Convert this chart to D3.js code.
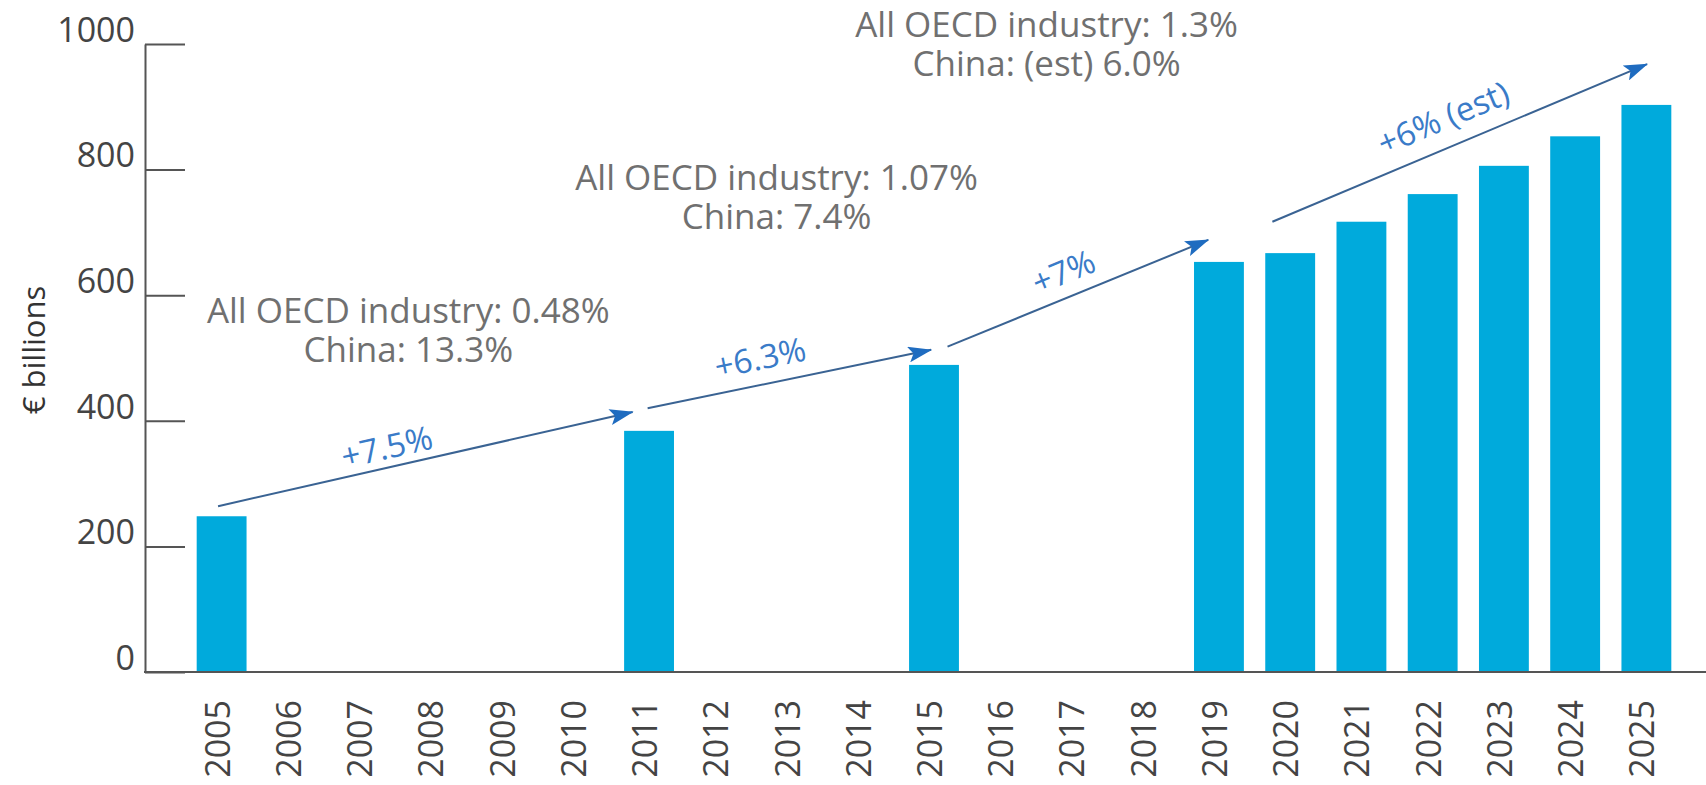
<!DOCTYPE html>
<html lang="en">
<head>
    <meta charset="UTF-8">
    <title>Annual value, € billions</title>
    <script src="https://d3js.org/d3.v7.min.js"></script>
    <style>
        body {
            margin: 0;
            background: #fff;
            font-family: 'Open Sans', sans-serif;
        }
        .tick text {
            font-family: 'Open Sans', sans-serif;
            font-size: 34px;
            fill: #444;
        }
        .note {
            font-size: 35px;
            fill: #707070;
            text-anchor: middle;
        }
        .growth {
            font-size: 33px;
            fill: #3a7bc8;
            text-anchor: middle;
        }
    </style>
</head>
<body>
    <div id="chart"></div>

    <script>
        // data
        const years = d3.range(2005, 2026);
        const barYears = [2005, 2011, 2015, 2019, 2020, 2021, 2022, 2023, 2024, 2025];
        const barValues = [248, 384, 489, 653, 667, 717, 761, 806, 853, 903];
        const yTicks = [0, 200, 400, 600, 800, 1000];

        // growth arrows: from (year, value) to (year, value), label placed at (year, value)
        const arrowLabels = ["+7.5%", "+6.3%", "+7%", "+6% (est)"];
        const arrowFrom = [[2004.95, 264], [2010.98, 420], [2015.19, 518], [2019.75, 717]];
        const arrowTo = [[2010.77, 414], [2014.96, 513], [2018.85, 688], [2025.01, 968]];
        const arrowLabelAt = [[2007.32, 358], [2012.56, 500], [2016.82, 637], [2022.15, 882]];

        // text notes, anchored at (year, value) of the first line
        const noteLines = [
            ["All OECD industry: 0.48%", "China: 13.3%"],
            ["All OECD industry: 1.07%", "China: 7.4%"],
            ["All OECD industry: 1.3%", "China: (est) 6.0%"]
        ];
        const noteAt = [[2007.62, 556], [2012.79, 767], [2016.58, 1011]];

        const width = 1706, height = 785;
        const axisX = 145;

        const svg = d3.select("#chart").append("svg")
            .attr("width", width)
            .attr("height", height);

        const x = d3.scaleBand()
            .domain(years)
            .range([186, 1682])
            .paddingInner(0.3)
            .paddingOuter(0.15);

        const y = d3.scaleLinear()
            .domain([0, 1000])
            .range([672, 44]);

        // continuous year -> pixel
        const xPos = yr => x(2005) + x.bandwidth() / 2 + (yr - 2005) * x.step();

        // bars
        svg.selectAll(".bar")
            .data(barYears)
            .enter()
            .append("rect")
            .attr("class", "bar")
            .attr("x", d => x(d))
            .attr("width", x.bandwidth())
            .attr("y", (d, i) => y(barValues[i]))
            .attr("height", (d, i) => y(0) - y(barValues[i]))
            .attr("fill", "#00aadc");

        // y axis
        const yAxis = svg.append("g")
            .attr("transform", `translate(${axisX},0)`)
            .call(d3.axisLeft(y).tickValues(yTicks).tickFormat(d3.format("d"))
                .tickSizeInner(-40).tickSizeOuter(0).tickPadding(10));
        yAxis.select(".domain").attr("stroke", "#555").attr("stroke-width", 2);
        yAxis.selectAll(".tick line").attr("stroke", "#555").attr("stroke-width", 2);
        yAxis.selectAll(".tick text").attr("dy", "-0.08em");

        // x axis
        const xAxis = svg.append("g")
            .attr("transform", `translate(0,${y(0)})`)
            .call(d3.axisBottom(x).tickSize(0));
        xAxis.select(".domain").remove();
        xAxis.selectAll(".tick text")
            .attr("transform", "rotate(-90)")
            .attr("text-anchor", "end")
            .attr("x", -28)
            .attr("y", 8)
            .attr("dy", 0);

        svg.append("line")
            .attr("x1", axisX - 1)
            .attr("x2", width)
            .attr("y1", y(0))
            .attr("y2", y(0))
            .attr("stroke", "#555")
            .attr("stroke-width", 2);

        // y axis title
        svg.append("text")
            .attr("transform", `translate(45,350) rotate(-90)`)
            .attr("text-anchor", "middle")
            .attr("font-size", 31)
            .attr("fill", "#333")
            .text("€ billions");

        // arrowhead
        svg.append("defs").append("marker")
            .attr("id", "head")
            .attr("markerUnits", "userSpaceOnUse")
            .attr("markerWidth", 24)
            .attr("markerHeight", 16)
            .attr("refX", 23)
            .attr("refY", 8)
            .attr("orient", "auto")
            .append("path")
            .attr("d", "M0,0 L24,8 L0,16 L5,8 z")
            .attr("fill", "#1f6cc0");

        arrowLabels.forEach((label, i) => {
            const x1 = xPos(arrowFrom[i][0]), y1 = y(arrowFrom[i][1]);
            const x2 = xPos(arrowTo[i][0]), y2 = y(arrowTo[i][1]);
            const angle = Math.atan2(y2 - y1, x2 - x1) * 180 / Math.PI;

            svg.append("line")
                .attr("x1", x1).attr("y1", y1)
                .attr("x2", x2).attr("y2", y2)
                .attr("stroke", "#3a6393")
                .attr("stroke-width", 2)
                .attr("marker-end", "url(#head)");

            svg.append("text")
                .attr("class", "growth")
                .attr("transform", `translate(${xPos(arrowLabelAt[i][0])},${y(arrowLabelAt[i][1])}) rotate(${angle})`)
                .attr("dy", "0.35em")
                .text(label);
        });

        // notes
        noteLines.forEach((lines, i) => {
            const t = svg.append("text")
                .attr("class", "note")
                .attr("x", xPos(noteAt[i][0]))
                .attr("y", y(noteAt[i][1]));
            lines.forEach((line, j) => {
                t.append("tspan")
                    .attr("x", xPos(noteAt[i][0]))
                    .attr("dy", j === 0 ? 0 : 39)
                    .text(line);
            });
        });
    </script>
</body>
</html>
